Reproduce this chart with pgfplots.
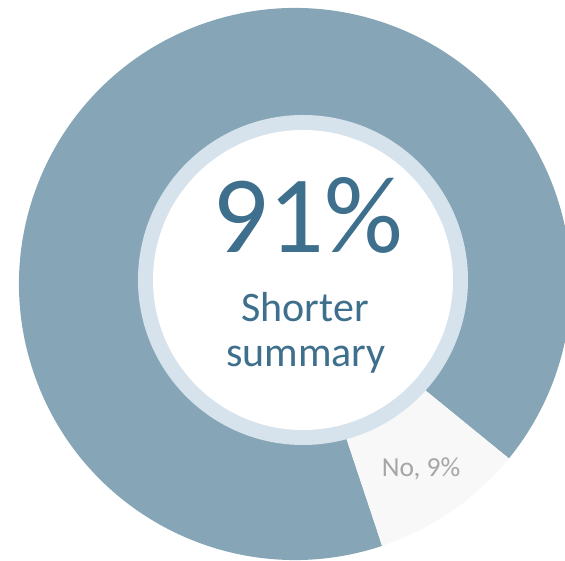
\documentclass[border=0pt]{standalone}
\usepackage{fontspec}
\setmainfont{Carlito}
\usepackage{pgfplots}
\usepackage{pgfplotstable}
\pgfplotsset{compat=1.18}

\definecolor{ringblue}{RGB}{134,166,183}
\definecolor{slicegray}{RGB}{248,248,248}
\definecolor{halo}{RGB}{214,227,236}
\definecolor{textblue}{RGB}{62,111,140}
\definecolor{labelgray}{RGB}{166,166,166}

% share of answers (percent)
\pgfplotstableread{
label value
Yes 91
No  9
}\piedata

\begin{document}
\begin{tikzpicture}
\pgfplotstablegetelem{0}{value}\of\piedata \let\yesval\pgfplotsretval
\pgfplotstablegetelem{1}{value}\of\piedata \let\noval\pgfplotsretval
% first slice starts here and runs clockwise
\pgfmathsetmacro{\startang}{-71.6}
\pgfmathsetmacro{\yesend}{\startang-3.6*\yesval}
\pgfmathsetmacro{\noend}{\yesend-3.6*\noval}
\begin{axis}[
    x=1pt, y=1pt,
    xmin=0, xmax=565,
    ymin=0, ymax=561,
    hide axis,
    clip=true,
]
% outer doughnut
\fill[ringblue] (axis cs:295,277) -- ++(\startang:276pt) arc[start angle=\startang, end angle=\yesend, radius=276pt] -- cycle;
\fill[slicegray] (axis cs:295,277) -- ++(\yesend:276pt) arc[start angle=\yesend, end angle=\noend, radius=276pt] -- cycle;
% centre disc
\fill[halo] (axis cs:303,281) circle[radius=165pt];
\fill[white] (axis cs:303,281) circle[radius=150pt];

\node[anchor=base, text=textblue, font=\fontsize{110}{110}\selectfont, inner sep=0pt] at (axis cs:308,308) {91\%};
\node[anchor=base, text=textblue, font=\fontsize{42}{42}\selectfont, inner sep=0pt] at (axis cs:305,239) {Shorter};
\node[anchor=base, text=textblue, font=\fontsize{42}{42}\selectfont, inner sep=0pt] at (axis cs:306,194) {summary};
\node[anchor=base, text=labelgray, font=\fontsize{27.5}{27.5}\selectfont, inner sep=0pt] at (axis cs:421,84) {No, 9\%};
\end{axis}
\pgfresetboundingbox
\useasboundingbox (current axis.south west) rectangle (current axis.north east);
\end{tikzpicture}
\end{document}
